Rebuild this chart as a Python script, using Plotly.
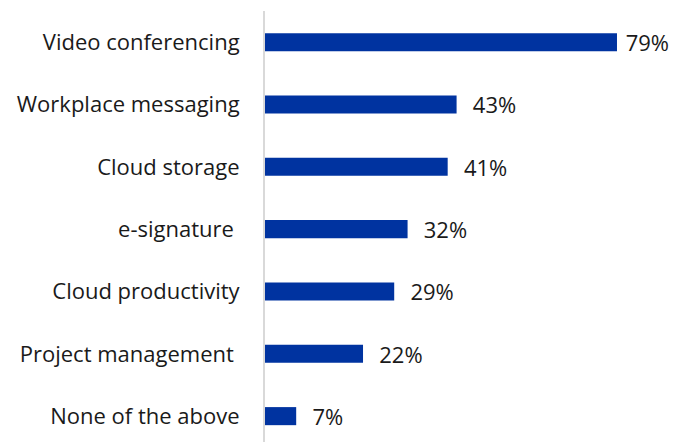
import plotly.graph_objects as go

# survey answers, top to bottom
categories = [
    "Video conferencing",
    "Workplace messaging",
    "Cloud storage",
    "e-signature\u00a0",
    "Cloud productivity",
    "Project management\u00a0",
    "None of the above",
]
shares = [79, 43, 41, 32, 29, 22, 7]

# labels sit a bit away from the bar end; the longest one is tucked closer
labels = []
for i, v in enumerate(shares):
    pad = "\u00a0" if i == 0 else "\u2002\u200a"
    labels.append(f"{pad}{v}%")

fig = go.Figure(
    go.Bar(
        x=shares,
        y=categories,
        orientation="h",
        width=0.29,
        marker={"color": "#0033a0", "line": {"width": 0}},
        text=labels,
        textposition="outside",
        constraintext="none",
        cliponaxis=False,
        textfont={"size": 22, "color": "#1a1a1a"},
        hoverinfo="skip",
    )
)

# page body has an 8px margin, so the figure is sized to the visible area
fig.update_layout(
    width=669,
    height=434,
    margin={"l": 257, "r": 11, "t": 3, "b": 0},
    paper_bgcolor="white",
    plot_bgcolor="white",
    showlegend=False,
    font={"family": "Open Sans", "size": 22, "color": "#1a1a1a"},
    xaxis={
        "range": [0, 90],
        "visible": False,
    },
    yaxis={
        "range": [6.415, -0.5],
        "showline": True,
        "linecolor": "#d9d9d9",
        "linewidth": 2,
        "showgrid": False,
        "ticks": "",
        "ticklabelstandoff": 19,
    },
)

fig.write_html("out.html")
